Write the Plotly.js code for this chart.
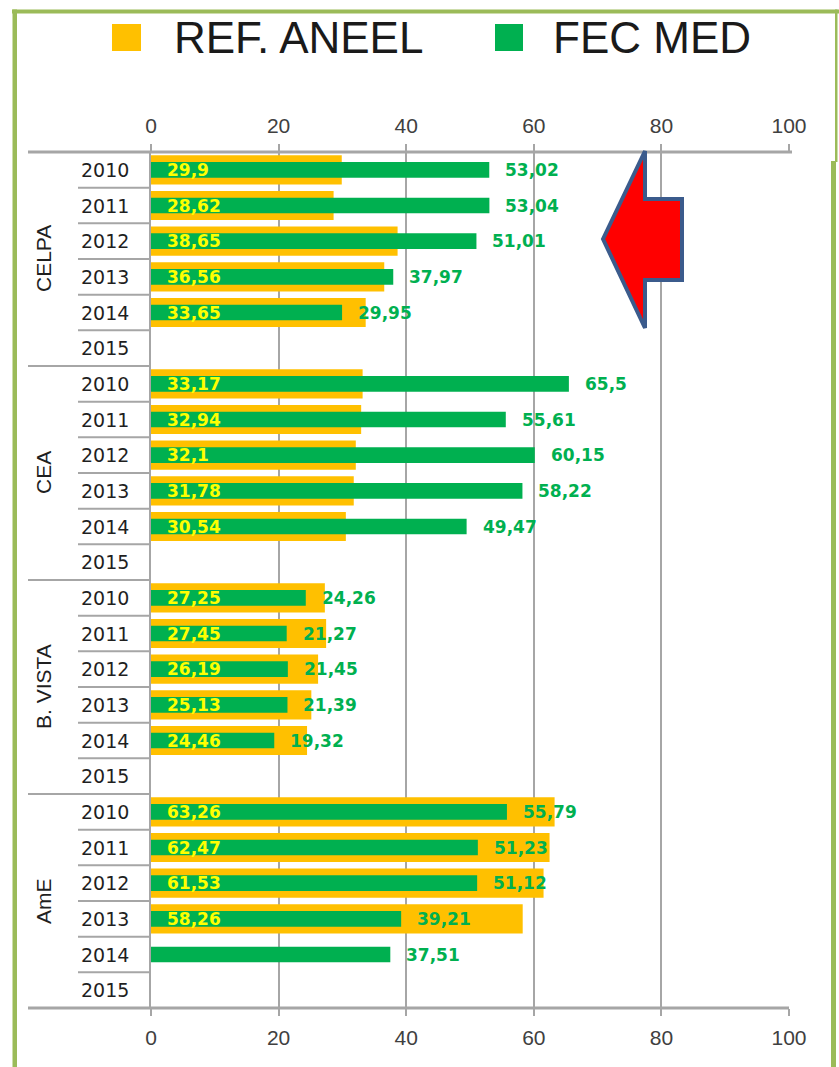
<!DOCTYPE html>
<html>
<head>
<meta charset="utf-8">
<script src="https://cdn.plot.ly/plotly-3.0.1.min.js"></script>
<style>html,body{margin:0;padding:0;background:#fff;overflow:hidden;}#chart{width:839px;height:1067px;}</style>
</head>
<body>
<div id="chart"></div>
<script>
// ---- data ----
const groups = ['CELPA', 'CEA', 'B. VISTA', 'AmE'];
const years = ['2010', '2011', '2012', '2013', '2014', '2015'];
const seriesNames = ['REF. ANEEL', 'FEC MED'];
const refAneel = [29.9, 28.62, 38.65, 36.56, 33.65, null,
                  33.17, 32.94, 32.1, 31.78, 30.54, null,
                  27.25, 27.45, 26.19, 25.13, 24.46, null,
                  63.26, 62.47, 61.53, 58.26, null, null];
const fecMed = [53.02, 53.04, 51.01, 37.97, 29.95, null,
                65.5, 55.61, 60.15, 58.22, 49.47, null,
                24.26, 21.27, 21.45, 21.39, 19.32, null,
                55.79, 51.23, 51.12, 39.21, 37.51, null];
const xTicks = [0, 20, 40, 60, 80, 100];

// ---- geometry helpers (pixel -> paper) ----
const W = 839, H = 1067;
const L = 151, R = 789, T = 152, B = 1008;
const px = X => (X - L) / (R - L);
const py = Y => (B - Y) / (B - T);

const rows = [];
groups.forEach((g, gi) => years.forEach((y, yi) => rows.push(gi * years.length + yi)));
const nRows = rows.length;
const fmt = v => String(v).replace('.', ',');

const ORANGE = '#FFC000', GREEN = '#00B050', FRAME = '#9BBB59', GRID = '#A6A6A6';

const traces = [
  {type: 'bar', orientation: 'h', name: seriesNames[0], x: refAneel, y: rows, width: 0.82,
   marker: {color: ORANGE, line: {width: 0}}, xaxis: 'x', yaxis: 'y', hoverinfo: 'skip', showlegend: false},
  {type: 'bar', orientation: 'h', name: seriesNames[1], x: fecMed, y: rows, width: 0.44,
   marker: {color: GREEN, line: {width: 0}}, xaxis: 'x2', yaxis: 'y', hoverinfo: 'skip', showlegend: false}
];

const annotations = [];
const shapes = [];
const labFont = {family: 'DejaVu Sans, Liberation Sans, Arial', size: 17, weight: 'bold'};

rows.forEach((r, i) => {
  annotations.push({xref: 'paper', yref: 'y', x: px(105), y: r, text: years[i % years.length],
    showarrow: false, xanchor: 'center', yanchor: 'middle',
    font: {family: 'DejaVu Sans, Arial', size: 19, color: '#1f1f1f'}});
  if (refAneel[i] !== null) {
    annotations.push({xref: 'x', yref: 'y', x: 0, y: r, text: fmt(refAneel[i]), showarrow: false,
      xanchor: 'left', yanchor: 'middle', xshift: 14, font: Object.assign({color: '#FFFF00'}, labFont)});
  }
  if (fecMed[i] !== null) {
    annotations.push({xref: 'x', yref: 'y', x: fecMed[i], y: r, text: fmt(fecMed[i]), showarrow: false,
      xanchor: 'left', yanchor: 'middle', xshift: 14, font: Object.assign({color: GREEN}, labFont)});
  }
  if ((i % years.length) !== years.length - 1) {
    shapes.push({type: 'line', xref: 'paper', yref: 'y', x0: px(78), x1: 0, y0: r + 0.5, y1: r + 0.5,
      line: {color: GRID, width: 2}});
  }
});

groups.forEach((g, gi) => {
  annotations.push({xref: 'paper', yref: 'y', x: px(43), y: gi * years.length + (years.length - 1) / 2,
    text: g, textangle: -90, showarrow: false, xanchor: 'center', yanchor: 'middle',
    font: {family: 'Liberation Sans Narrow, Liberation Sans, Arial', size: 21, color: '#1f1f1f'}});
  if (gi < groups.length - 1) {
    const yb = (gi + 1) * years.length - 0.5;
    shapes.push({type: 'line', xref: 'paper', yref: 'y', x0: px(28), x1: 0, y0: yb, y1: yb,
      line: {color: GRID, width: 2}});
  }
});

shapes.push({type: 'line', xref: 'paper', yref: 'paper', x0: px(28), x1: px(792), y0: 1, y1: 1,
  line: {color: GRID, width: 3}});
shapes.push({type: 'line', xref: 'paper', yref: 'paper', x0: px(28), x1: 1, y0: 0, y1: 0,
  line: {color: GRID, width: 3}});

const legendItems = [
  {sq: [112, 141], tx: 172, color: ORANGE},
  {sq: [495, 523], tx: 551, color: GREEN}
];
legendItems.forEach((it, k) => {
  shapes.push({type: 'rect', xref: 'paper', yref: 'paper', x0: px(it.sq[0]), x1: px(it.sq[1]),
    y0: py(51), y1: py(24), fillcolor: it.color, line: {width: 0}});
  annotations.push({xref: 'paper', yref: 'paper', x: px(it.tx), y: py(37), text: seriesNames[k],
    showarrow: false, xanchor: 'left', yanchor: 'middle',
    font: {family: 'Liberation Sans, Arial', size: 44, color: '#1a1a1a'}});
});

// frame
const frameRects = [
  [12, 839, 9.5, 13.5],
  [12.5, 17, 9.5, 1067],
  [835, 837.5, 9.5, 162],
  [831, 836, 161, 1067]
];
frameRects.forEach(f => shapes.push({type: 'rect', xref: 'paper', yref: 'paper',
  x0: px(f[0]), x1: px(f[1]), y0: py(f[3]), y1: py(f[2]), fillcolor: FRAME, line: {width: 0}}));

// arrow
const arrowPts = [[603, 239], [645, 151], [645, 199], [682, 199], [682, 280], [645, 280], [645, 328]];
shapes.push({type: 'path', xref: 'paper', yref: 'paper',
  path: 'M ' + arrowPts.map(p => px(p[0]) + ',' + py(p[1])).join(' L ') + ' Z',
  fillcolor: '#FF0000', line: {color: '#3B5B8C', width: 4}});

const tickFont = {family: 'Liberation Sans, Arial', size: 21, color: '#404040'};
const layout = {
  width: W, height: H,
  margin: {l: L, r: W - R, t: T, b: H - B, pad: 0},
  paper_bgcolor: '#ffffff', plot_bgcolor: '#ffffff',
  barmode: 'overlay', showlegend: false,
  xaxis: {range: [0, 100], tickvals: xTicks, ticktext: xTicks.map(String), ticks: 'outside', ticklen: 7,
    tickwidth: 2, tickcolor: GRID, showgrid: true, gridcolor: GRID, gridwidth: 2, zeroline: false,
    showline: false, tickfont: tickFont, ticklabelstandoff: 4, fixedrange: true},
  xaxis2: {overlaying: 'x', side: 'top', range: [0, 100], tickvals: xTicks, ticktext: xTicks.map(String),
    ticks: 'outside', ticklen: 7, tickwidth: 2, tickcolor: GRID, showgrid: false, zeroline: false,
    showline: false, tickfont: tickFont, ticklabelstandoff: 3, fixedrange: true},
  yaxis: {range: [nRows - 0.5, -0.5], showticklabels: false, ticks: '', showgrid: false, zeroline: false,
    showline: true, linecolor: GRID, linewidth: 2, fixedrange: true},
  annotations: annotations,
  shapes: shapes
};

Plotly.newPlot('chart', traces, layout, {displayModeBar: false, staticPlot: true});
</script>
</body>
</html>
